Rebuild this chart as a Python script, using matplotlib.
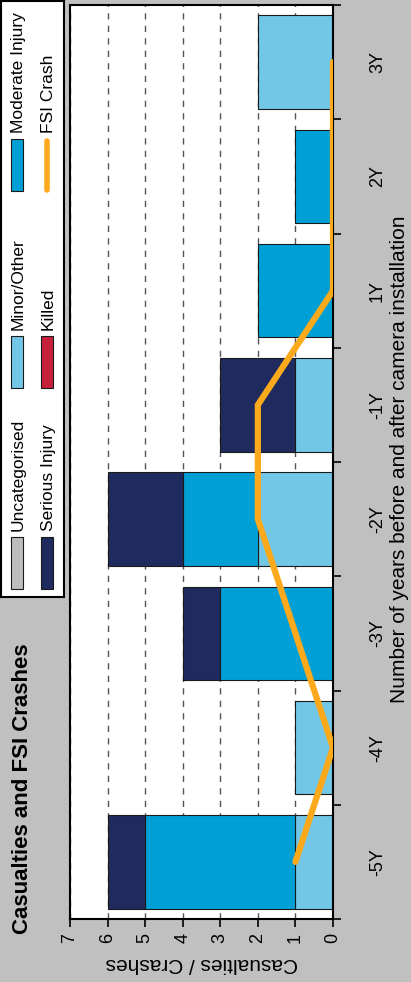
import numpy as np
import matplotlib
matplotlib.use("Agg")
import matplotlib.pyplot as plt
from matplotlib.patches import Rectangle

plt.rcParams['font.family'] = ['Liberation Sans', 'DejaVu Sans']

# data (chart is drawn rotated 90 degrees)
years = ['-5Y', '-4Y', '-3Y', '-2Y', '-1Y', '1Y', '2Y', '3Y']
uncategorised = [0, 0, 0, 0, 0, 0, 0, 0]
minor = [1, 1, 0, 2, 1, 0, 0, 2]
moderate = [4, 0, 3, 2, 0, 2, 1, 0]
serious = [1, 0, 1, 2, 2, 0, 0, 0]
killed = [0, 0, 0, 0, 0, 0, 0, 0]
fsi = [1, 0, 1, 2, 2, 0, 0, 0]

series = [
    ('Uncategorised', uncategorised, '#bdbdbd'),
    ('Minor/Other', minor, '#72c6e6'),
    ('Moderate Injury', moderate, '#00a0d6'),
    ('Serious Injury', serious, '#1f2b5e'),
    ('Killed', killed, '#c8203a'),
]
fsi_color = '#fca91c'
bg = '#c0c0c0'

W, H = 411, 982
fig = plt.figure(figsize=(W / 100, H / 100), dpi=100, facecolor=bg)
ax = fig.add_axes([70 / W, 1 - 919 / H, (333 - 70) / W, (919 - 5) / H])

pos = np.arange(len(years))
base = np.zeros(len(years))
for name, vals, col in series:
    vals = np.array(vals, dtype=float)
    m = vals > 0
    if m.any():
        ax.barh(pos[m], vals[m], left=base[m], height=0.82, color=col,
                edgecolor='#1a1a1a', linewidth=0.8, zorder=2)
    base += vals

ax.plot(fsi, pos, color=fsi_color, lw=4.5, solid_capstyle='round',
        solid_joinstyle='miter', zorder=3)

ax.set_xlim(7, 0)
ax.set_ylim(-0.5, len(years) - 0.5)
ax.set_xticks(range(8))
ax.tick_params(axis='x', length=6, width=1.2, labelsize=13, labelrotation=90, pad=4)
ax.xaxis.grid(True, linestyle=(0, (4.5, 4.5)), color='#555555', linewidth=1)
ax.set_axisbelow(True)

ax.yaxis.tick_right()
ax.set_yticks(pos)
ax.set_yticklabels(years, rotation=90, va='center')
ax.set_yticks(np.arange(-0.5, len(years), 1), minor=True)
ax.tick_params(axis='y', which='major', length=0, pad=26, labelsize=13)
ax.tick_params(axis='y', which='minor', length=6, width=1.2)
for s in ax.spines.values():
    s.set_linewidth(1.5)

fig.text(399 / W, 1 - 459 / H, 'Number of years before and after camera installation',
         rotation=90, ha='center', va='center', fontsize=15)
fig.text(202 / W, 1 - 963 / H, 'Casualties / Crashes',
         rotation=180, ha='center', va='center', fontsize=15)
fig.text(23 / W, 1 - 789 / H, 'Casualties and FSI Crashes',
         rotation=90, ha='center', va='center', fontsize=16, fontweight='bold')

# legend, drawn by hand because it is rotated
lg = fig.add_axes([1 / W, 1 - 597 / H, 63 / W, 596 / H])
lg.set_xlim(1, 64)
lg.set_ylim(597, 1)
lg.set_xticks([])
lg.set_yticks([])
lg.set_facecolor('white')
for s in lg.spines.values():
    s.set_linewidth(1.5)

items = [
    ('Uncategorised', series[0][2], 11, 537),
    ('Minor/Other', series[1][2], 11, 336),
    ('Moderate Injury', series[2][2], 11, 139),
    ('Serious Injury', series[3][2], 41, 537),
    ('Killed', series[4][2], 41, 336),
]
for label, col, x0, y0 in items:
    lg.add_patch(Rectangle((x0, y0), 12, 52, facecolor=col, edgecolor='#1a1a1a', lw=0.8))
    lg.text(x0 + 12, y0 - 6, label, rotation=90, rotation_mode='anchor',
            ha='left', va='baseline', fontsize=12.5)
lg.plot([47, 47], [141, 190], color=fsi_color, lw=4, solid_capstyle='round')
lg.text(53, 133, 'FSI Crash', rotation=90, rotation_mode='anchor',
        ha='left', va='baseline', fontsize=12.5)

fig.savefig('out.png', dpi=100, facecolor=fig.get_facecolor())
